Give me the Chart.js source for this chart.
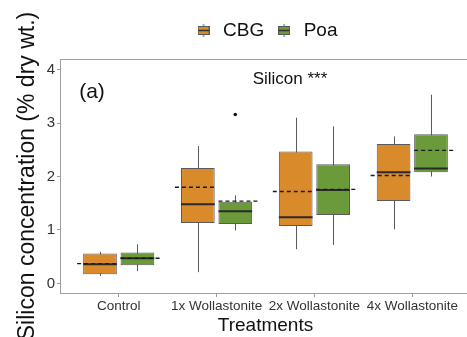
<!DOCTYPE html>
<html>
<head>
<meta charset="utf-8">
<script src="https://cdn.jsdelivr.net/npm/chart.js@4.4.0/dist/chart.umd.min.js"></script>
<style>
  html, body { margin: 0; padding: 0; overflow: hidden; background: #fff; }
  canvas { display: block; }
</style>
</head>
<body>
<canvas id="chart" width="480" height="337"></canvas>
<script>
// data
const treatments = ['Control', '1x Wollastonite', '2x Wollastonite', '4x Wollastonite'];
const xTicks = [1, 2, 3, 4];
const yTicks = [0, 1, 2, 3, 4];

const cbgLow = [0.14, 0.21, 0.64, 1.01];
const cbgQ1 = [0.17, 1.13, 1.075, 1.54];
const cbgMedian = [0.36, 1.48, 1.24, 2.08];
const cbgQ3 = [0.56, 2.16, 2.47, 2.61];
const cbgHigh = [0.59, 2.57, 3.10, 2.75];
const cbgMean = [0.37, 1.80, 1.72, 2.02];
const cbgOutliers = [[], [], [], []];

const poaLow = [0.23, 0.99, 0.72, 2.00];
const poaQ1 = [0.34, 1.11, 1.28, 2.08];
const poaMedian = [0.47, 1.35, 1.75, 2.15];
const poaQ3 = [0.58, 1.53, 2.23, 2.79];
const poaHigh = [0.73, 1.65, 2.94, 3.53];
const poaMean = [0.47, 1.54, 1.76, 2.49];
const poaOutliers = [[], [3.16], [], []];

const ORANGE = '#D98A2B';
const GREEN = '#6A9A39';
const EDGE = '#5a5a5a';

Chart.defaults.font.family = "'Liberation Sans', Arial, sans-serif";

const extras = [
    { low: cbgLow, median: cbgMedian, high: cbgHigh, mean: cbgMean, outliers: cbgOutliers, side: -1 },
    { low: poaLow, median: poaMedian, high: poaHigh, mean: poaMean, outliers: poaOutliers, side: 1 }
];

// little boxplot glyph for the legend
function legendIcon(color) {
    const c = document.createElement('canvas');
    c.width = 12; c.height = 13;
    const g = c.getContext('2d');
    g.strokeStyle = EDGE;
    g.lineWidth = 1;
    g.beginPath(); g.moveTo(6, 0); g.lineTo(6, 13); g.stroke();
    g.fillStyle = color;
    g.fillRect(0.5, 2.5, 11, 8);
    g.strokeRect(0.5, 2.5, 11, 8);
    g.strokeStyle = '#333';
    g.lineWidth = 1.5;
    g.beginPath(); g.moveTo(0.5, 6.5); g.lineTo(11.5, 6.5); g.stroke();
    return c;
}
const icons = [legendIcon(ORANGE), legendIcon(GREEN)];

const boxParts = {
    id: 'boxParts',
    beforeDatasetsDraw(chart) {
        const ctx = chart.ctx;
        const y = chart.scales.y;
        ctx.save();
        ctx.strokeStyle = EDGE;
        ctx.lineWidth = 1;
        extras.forEach((ex, di) => {
            chart.getDatasetMeta(di).data.forEach((bar, i) => {
                const x = Math.round(bar.x) + 0.5;
                ctx.beginPath();
                ctx.moveTo(x, y.getPixelForValue(ex.low[i]));
                ctx.lineTo(x, y.getPixelForValue(ex.high[i]));
                ctx.stroke();
            });
        });
        ctx.restore();
    },
    afterDatasetsDraw(chart) {
        const ctx = chart.ctx;
        const y = chart.scales.y;
        ctx.save();
        extras.forEach((ex, di) => {
            chart.getDatasetMeta(di).data.forEach((bar, i) => {
                const l = bar.x - bar.width / 2;
                const r = bar.x + bar.width / 2;
                // median
                ctx.strokeStyle = '#2a2a2a';
                ctx.lineWidth = 2;
                ctx.setLineDash([]);
                const ym = y.getPixelForValue(ex.median[i]);
                ctx.beginPath(); ctx.moveTo(l, ym); ctx.lineTo(r, ym); ctx.stroke();
                // mean, dashed and pushed outward a little
                const ext = bar.width * 0.18;
                const ml = ex.side < 0 ? l - ext : l;
                const mr = ex.side < 0 ? r : r + ext;
                const yMean = y.getPixelForValue(ex.mean[i]);
                ctx.strokeStyle = '#1a1a1a';
                ctx.lineWidth = 1.4;
                ctx.setLineDash([4, 3]);
                ctx.beginPath(); ctx.moveTo(ml, yMean); ctx.lineTo(mr, yMean); ctx.stroke();
                ctx.setLineDash([]);
                // outliers
                ctx.fillStyle = '#111';
                ex.outliers[i].forEach(v => {
                    ctx.beginPath();
                    ctx.arc(bar.x, y.getPixelForValue(v), 1.8, 0, Math.PI * 2);
                    ctx.fill();
                });
            });
        });
        ctx.restore();
    },
    afterDraw(chart) {
        const ctx = chart.ctx;
        const a = chart.chartArea;
        ctx.save();
        ctx.fillStyle = '#111';
        ctx.textBaseline = 'middle';
        ctx.textAlign = 'center';
        ctx.font = "21px 'Liberation Sans', Arial, sans-serif";
        ctx.fillText('(a)', a.left + 32, a.top + 33);
        ctx.font = "17px 'Liberation Sans', Arial, sans-serif";
        ctx.fillText('Silicon ***', a.left + 230, a.top + 20);
        // y title, too long for the built-in one
        ctx.translate(28, (a.top + a.bottom) / 2);
        ctx.rotate(-Math.PI / 2);
        ctx.font = "23px 'Liberation Sans', Arial, sans-serif";
        ctx.fillText('Silicon concentration (% dry wt.)', 0, 0);
        ctx.restore();
    }
};

const ctx = document.getElementById('chart').getContext('2d');
const chart = new Chart(ctx, {
    type: 'bar',
    data: {
        datasets: [{
            label: 'CBG',
            data: xTicks.map((x, i) => ({ x: x, y: [cbgQ1[i], cbgQ3[i]] })),
            backgroundColor: ORANGE,
            borderColor: EDGE,
            borderWidth: 1,
            borderSkipped: false
        }, {
            label: 'Poa',
            data: xTicks.map((x, i) => ({ x: x, y: [poaQ1[i], poaQ3[i]] })),
            backgroundColor: GREEN,
            borderColor: EDGE,
            borderWidth: 1,
            borderSkipped: false
        }]
    },
    options: {
        responsive: false,
        animation: false,
        devicePixelRatio: 1,
        categoryPercentage: 0.765,
        barPercentage: 0.9,
        layout: { padding: { top: 11, right: 9, left: 0, bottom: 0 } },
        plugins: {
            legend: {
                position: 'top',
                fullSize: false,
                labels: {
                    usePointStyle: true,
                    pointStyleWidth: 20,
                    padding: 10,
                    color: '#111',
                    font: { size: 19 },
                    generateLabels: (c) => Chart.defaults.plugins.legend.labels.generateLabels(c)
                        .map((l, i) => ({ ...l, pointStyle: icons[i] }))
                }
            },
            tooltip: { enabled: false }
        },
        scales: {
            x: {
                type: 'linear',
                min: 0.4,
                max: 4.6,
                offset: false,
                afterBuildTicks: s => { s.ticks = xTicks.map(v => ({ value: v })); },
                afterFit: s => { s.height = 44; },
                ticks: {
                    autoSkip: false,
                    maxRotation: 0,
                    padding: 1,
                    color: '#333',
                    font: { size: 13.5 },
                    callback: v => treatments[v - 1]
                },
                grid: { drawOnChartArea: false, offset: false, tickLength: 4, color: '#999' },
                border: { color: '#a0a0a0' },
                title: {
                    display: true,
                    text: 'Treatments',
                    color: '#111',
                    font: { size: 19, lineHeight: 1 },
                    padding: { top: 0, bottom: 2 }
                }
            },
            xTop: {
                type: 'linear',
                position: 'top',
                min: 0.4,
                max: 4.6,
                afterFit: s => { s.height = 9; },
                ticks: { display: false },
                grid: { drawOnChartArea: false, drawTicks: false },
                border: { color: '#a0a0a0' }
            },
            y: {
                min: -0.18,
                max: 4.2,
                afterBuildTicks: s => { s.ticks = yTicks.map(v => ({ value: v })); },
                afterFit: s => { s.width = 60; },
                ticks: {
                    padding: 2,
                    color: '#333',
                    font: { size: 15 }
                },
                grid: { drawOnChartArea: false, tickLength: 3, color: '#999' },
                border: { color: '#a0a0a0' }
            }
        }
    },
    plugins: [boxParts]
});
</script>
</body>
</html>
